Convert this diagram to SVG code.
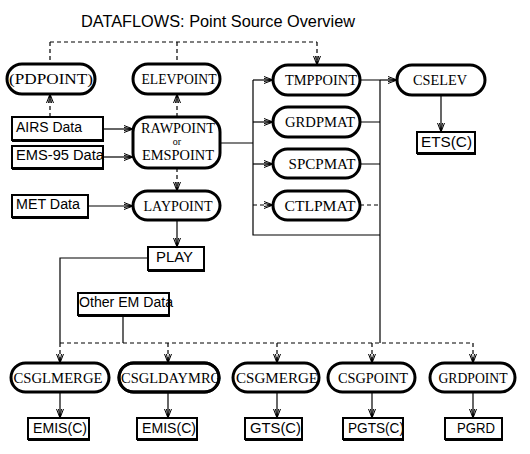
<svg xmlns="http://www.w3.org/2000/svg" width="530" height="454" viewBox="0 0 530 454">
<style>
.bg{fill:#fff}
.n{fill:#fff;stroke:#000;stroke-width:3}
.b{fill:#fff;stroke:#000;stroke-width:2}
.bl{stroke:#000;stroke-width:2}
.nt{font-family:"Liberation Serif","Times New Roman",serif;font-size:15px;fill:#000;text-anchor:middle}
.bt{font-family:"Liberation Sans",Arial,sans-serif;font-size:14px;fill:#000}
.title{font-family:"Liberation Sans",Arial,sans-serif;font-size:16px;fill:#000}
.c{fill:none;stroke:#000;stroke-width:1.2}
.d{fill:none;stroke:#000;stroke-width:1.2;stroke-dasharray:4,3}
.a{marker-end:url(#arr)}
</style>
<defs>
<marker id="arr" markerUnits="userSpaceOnUse" markerWidth="12" markerHeight="10" refX="9" refY="4" orient="auto">
<path d="M0,0.5 L9,4 L0,7.5 M0,2.5 L9,4 L0,5.5" fill="none" stroke="#000" stroke-width="1"/>
<path d="M6,2.8 L9,4 L6,5.2 Z" fill="#000"/>
</marker>
</defs>
<rect class="bg" x="0" y="0" width="530" height="454"/>
<text class="title" x="81" y="27" textLength="274" lengthAdjust="spacingAndGlyphs">DATAFLOWS: Point Source Overview</text>

<g id="connectors">
<path class="d" d="M50,42 H317 M50,42 V64 M177,42 V64"/>
<path class="d a" d="M317,42 V65"/>
<path class="d a" d="M50,117 V94"/>
<path class="d a" d="M177,117 V94"/>
<path class="d a" d="M177,168 V191"/>
<path class="c a" d="M103,129 H133"/>
<path class="c a" d="M103,157 H133"/>
<path class="c a" d="M88,206 H133"/>
<path class="c a" d="M177,220 V247"/>
<path class="c" d="M148,258 H60 V343"/>
<path class="c" d="M123,315 V343"/>
<path class="d" d="M60,343 H473"/>
<path class="d a" d="M60,343 V363"/>
<path class="d a" d="M168,343 V363"/>
<path class="d a" d="M277,343 V363"/>
<path class="d a" d="M372,343 V363"/>
<path class="d a" d="M473,343 V363"/>
<path class="c" d="M220,143 H253 M253,80 V235 H380 M380,80 V343 M360,80 H380 M360,122 H380 M360,164 H380"/>
<path class="d" d="M360,205 H380"/>
<path class="c a" d="M253,80 H273"/>
<path class="c a" d="M253,122 H273"/>
<path class="c a" d="M253,164 H273"/>
<path class="d a" d="M253,205 H273"/>
<path class="c a" d="M380,80 H397"/>
<path class="c a" d="M441,95 V132"/>
<path class="c a" d="M60,392 V418"/>
<path class="c a" d="M168,392 V418"/>
<path class="c a" d="M277,392 V418"/>
<path class="c a" d="M372,392 V418"/>
<path class="c a" d="M473,392 V418"/>
</g>

<g id="pdpoint"><rect class="n" x="7" y="64" width="88" height="30" rx="15"/><text class="nt" x="51" y="84" textLength="84" lengthAdjust="spacingAndGlyphs">(PDPOINT)</text></g>
<g id="elevpoint"><rect class="n" x="133" y="64" width="87" height="30" rx="15"/><text class="nt" x="179" y="84" textLength="75" lengthAdjust="spacingAndGlyphs">ELEVPOINT</text></g>
<g id="tmppoint"><rect class="n" x="273" y="65" width="87" height="30" rx="15"/><text class="nt" x="321" y="85" textLength="72" lengthAdjust="spacingAndGlyphs">TMPPOINT</text></g>
<g id="cselev"><rect class="n" x="397" y="65" width="88" height="30" rx="15"/><text class="nt" x="440" y="85" textLength="54" lengthAdjust="spacingAndGlyphs">CSELEV</text></g>
<g id="grdpmat"><rect class="n" x="273" y="107" width="87" height="30" rx="15"/><text class="nt" x="320" y="127" textLength="70" lengthAdjust="spacingAndGlyphs">GRDPMAT</text></g>
<g id="spcpmat"><rect class="n" x="273" y="149" width="87" height="29" rx="14.5"/><text class="nt" x="322" y="169" textLength="67" lengthAdjust="spacingAndGlyphs">SPCPMAT</text></g>
<g id="ctlpmat"><rect class="n" x="273" y="191" width="87" height="29" rx="14.5"/><text class="nt" x="320" y="211" textLength="71" lengthAdjust="spacingAndGlyphs">CTLPMAT</text></g>
<g id="rawpoint"><rect class="n" x="133" y="117" width="87" height="51" rx="15"/><text class="nt" x="178" y="133" textLength="74" lengthAdjust="spacingAndGlyphs">RAWPOINT</text><text class="nt" x="177" y="145" style="font-size:10px">or</text><text class="nt" x="178" y="160" textLength="72" lengthAdjust="spacingAndGlyphs">EMSPOINT</text></g>
<g id="laypoint"><rect class="n" x="133" y="191" width="87" height="29" rx="14.5"/><text class="nt" x="178" y="211" textLength="69" lengthAdjust="spacingAndGlyphs">LAYPOINT</text></g>
<g id="csglmerge"><rect class="n" x="11" y="363" width="98" height="29" rx="14.5"/><text class="nt" x="58" y="383" textLength="89" lengthAdjust="spacingAndGlyphs">CSGLMERGE</text></g>
<g id="csgldaymrg"><rect class="n" x="119" y="363" width="100" height="29" rx="14.5"/><text class="nt" x="171" y="383" textLength="100" lengthAdjust="spacingAndGlyphs">CSGLDAYMRG</text><rect x="119" y="363" width="100" height="29" rx="14.5" fill="none" stroke="#000" stroke-width="3"/></g>
<g id="csgmerge"><rect class="n" x="233" y="363" width="86" height="29" rx="14.5"/><text class="nt" x="277" y="383" textLength="82" lengthAdjust="spacingAndGlyphs">CSGMERGE</text></g>
<g id="csgpoint"><rect class="n" x="328" y="363" width="87" height="29" rx="14.5"/><text class="nt" x="373" y="383" textLength="70" lengthAdjust="spacingAndGlyphs">CSGPOINT</text></g>
<g id="grdpoint"><rect class="n" x="430" y="363" width="85" height="29" rx="14.5"/><text class="nt" x="473" y="383" textLength="69" lengthAdjust="spacingAndGlyphs">GRDPOINT</text></g>

<g id="airs"><rect class="b" x="12" y="117" width="91" height="23"/><line class="bl" x1="12" y1="141" x2="104" y2="141"/><text class="bt" x="16" y="132" textLength="66" lengthAdjust="spacingAndGlyphs">AIRS Data</text></g>
<g id="ems95"><rect class="b" x="12" y="146" width="91" height="22"/><line class="bl" x1="12" y1="169" x2="104" y2="169"/><text class="bt" x="16" y="160" textLength="88" lengthAdjust="spacingAndGlyphs">EMS-95 Data</text></g>
<g id="met"><rect class="b" x="12" y="195" width="76" height="22"/><line class="bl" x1="12" y1="218" x2="89" y2="218"/><text class="bt" x="16" y="209" textLength="64" lengthAdjust="spacingAndGlyphs">MET Data</text></g>
<g id="play"><rect class="b" x="148" y="247" width="56" height="23"/><line class="bl" x1="148" y1="271" x2="205" y2="271"/><text class="bt" x="156" y="262" textLength="37" lengthAdjust="spacingAndGlyphs">PLAY</text></g>
<g id="otherem"><rect class="b" x="78" y="293" width="91" height="22"/><line class="bl" x1="78" y1="316" x2="170" y2="316"/><text class="bt" x="79" y="307" textLength="94" lengthAdjust="spacingAndGlyphs">Other EM Data</text></g>
<g id="ets"><rect class="b" x="417" y="132" width="58" height="21"/><line class="bl" x1="417" y1="154" x2="476" y2="154"/><text class="bt" x="421" y="147" textLength="51" lengthAdjust="spacingAndGlyphs">ETS(C)</text></g>
<g id="emis1"><rect class="b" x="28" y="418" width="61" height="21"/><line class="bl" x1="28" y1="440" x2="90" y2="440"/><text class="bt" x="33" y="433" textLength="54" lengthAdjust="spacingAndGlyphs">EMIS(C)</text></g>
<g id="emis2"><rect class="b" x="137" y="418" width="60" height="21"/><line class="bl" x1="137" y1="440" x2="198" y2="440"/><text class="bt" x="142" y="433" textLength="54" lengthAdjust="spacingAndGlyphs">EMIS(C)</text></g>
<g id="gts"><rect class="b" x="245" y="418" width="57" height="21"/><line class="bl" x1="245" y1="440" x2="303" y2="440"/><text class="bt" x="250" y="433" textLength="51" lengthAdjust="spacingAndGlyphs">GTS(C)</text></g>
<g id="pgts"><rect class="b" x="343" y="418" width="60" height="21"/><line class="bl" x1="343" y1="440" x2="404" y2="440"/><text class="bt" x="348" y="433" textLength="56" lengthAdjust="spacingAndGlyphs">PGTS(C)</text></g>
<g id="pgrd"><rect class="b" x="445" y="418" width="57" height="21"/><line class="bl" x1="445" y1="440" x2="503" y2="440"/><text class="bt" x="457" y="433" textLength="38" lengthAdjust="spacingAndGlyphs">PGRD</text></g>
</svg>
